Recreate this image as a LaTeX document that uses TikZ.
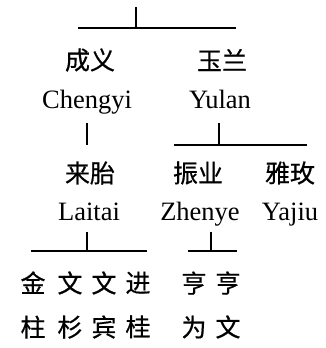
\documentclass[tikz,border=0pt]{standalone}
\usepackage{fontspec}
\setmainfont{Liberation Serif}
\newfontfamily\cjk[FakeBold=0.6]{Noto Sans CJK SC}
\begin{document}
\begin{tikzpicture}[x=1pt,y=-1pt,line width=1.2pt,
  han/.style={font=\cjk\fontsize{25}{44}\selectfont,align=center,inner sep=0pt},
  pinyin/.style={font=\fontsize{26.5}{30}\selectfont,inner sep=0pt,anchor=base}]
  \useasboundingbox (0,0) rectangle (326,348);
  % first generation
  \node [han] (cy) at (90,60) {成义};
  \node [pinyin] (cyp) at (87,108) {Chengyi};
  \node [han] (yl) at (222,60) {玉兰};
  \node [pinyin] (ylp) at (220,108) {Yulan};
  % second generation
  \node [han] (lt) at (90,173) {来胎};
  \node [pinyin] (ltp) at (89,220) {Laitai};
  \node [han] (zy) at (198,173) {振业};
  \node [pinyin] (zyp) at (200,220) {Zhenye};
  \node [han] (yj) at (290,173) {雅玫};
  \node [pinyin] (yjp) at (290,220) {Yajiu};
  % third generation
  \node [han] (jz) at (33,305) {金\\柱};
  \node [han] (ws) at (70,305) {文\\杉};
  \node [han] (wb) at (104,305) {文\\宾};
  \node [han] (jg) at (138,305) {进\\桂};
  \node [han] (hw) at (194,305) {亨\\为};
  \node [han] (hwn) at (228,305) {亨\\文};
  % brackets
  \coordinate (r0) at (136,7);
  \coordinate (r1) at (136,28);
  \coordinate (r0l) at (78,28);
  \coordinate (r0r) at (236,28);
  \coordinate (c0) at (87,123);
  \coordinate (c1) at (87,145);
  \coordinate (y0) at (219,123);
  \coordinate (y1) at (219,145);
  \coordinate (y0l) at (174,145);
  \coordinate (y0r) at (307,145);
  \coordinate (l0) at (87,232);
  \coordinate (l1) at (87,251);
  \coordinate (l0l) at (31,251);
  \coordinate (l0r) at (147,251);
  \coordinate (z0) at (211,232);
  \coordinate (z1) at (211,251);
  \coordinate (z0l) at (188,251);
  \coordinate (z0r) at (237,251);
  \draw (r0) -- (r1);
  \draw (r0l) -- (r0r);
  \draw (c0) -- (c1);
  \draw (y0) -- (y1);
  \draw (y0l) -- (y0r);
  \draw (l0) -- (l1);
  \draw (l0l) -- (l0r);
  \draw (z0) -- (z1);
  \draw (z0l) -- (z0r);
\end{tikzpicture}
\end{document}
